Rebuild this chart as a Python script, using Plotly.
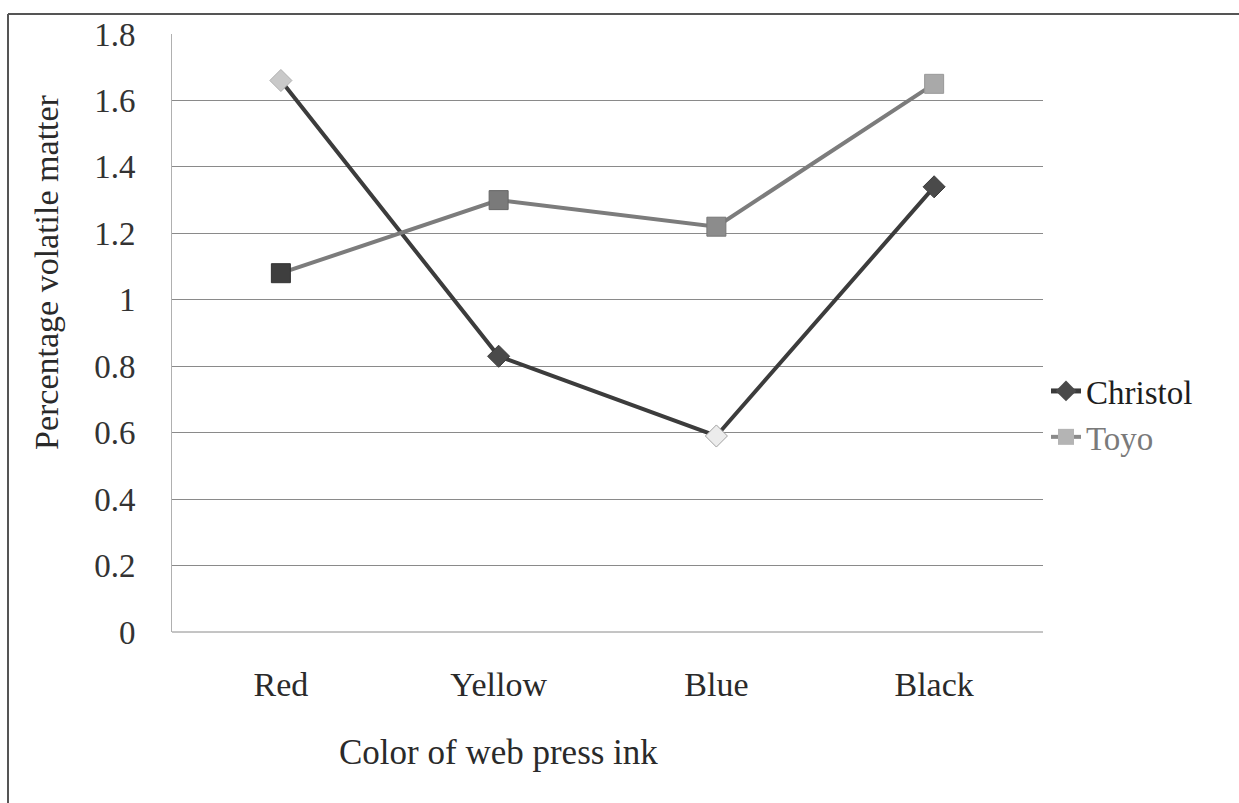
import plotly.graph_objects as go

# Volatile matter content of web press inks by colour
inks = ["Red", "Yellow", "Blue", "Black"]
christol = [1.66, 0.83, 0.59, 1.34]
toyo = [1.08, 1.30, 1.22, 1.65]
y_ticks = [0, 0.2, 0.4, 0.6, 0.8, 1, 1.2, 1.4, 1.6, 1.8]
y_tick_text = ["0", "0.2", "0.4", "0.6", "0.8", "1", "1.2", "1.4", "1.6", "1.8"]

FONT = "Liberation Serif, Times New Roman, serif"
W, H = 1239, 803
L, R, T, B = 172, 196, 34, 171
pw, ph = W - L - R, H - T - B

CHRISTOL_LINE = "#3c3c3c"
TOYO_LINE = "#7c7c7c"


def px_to_paper(x=None, y=None):
    out = []
    if x is not None:
        out.append((x - L) / pw)
    if y is not None:
        out.append((H - B - y) / ph)
    return out if len(out) > 1 else out[0]


fig = go.Figure()

fig.add_trace(go.Scatter(
    x=inks, y=christol, name="Christol", mode="lines+markers", showlegend=False,
    line=dict(color=CHRISTOL_LINE, width=4),
    marker=dict(symbol="diamond", size=17,
                color=["#c9c9c9", "#4a4a4a", "#ececec", "#4a4a4a"],
                line=dict(color=["#b0b0b0", "#3c3c3c", "#a0a0a0", "#3c3c3c"], width=1)),
))
fig.add_trace(go.Scatter(
    x=inks, y=toyo, name="Toyo", mode="lines+markers", showlegend=False,
    line=dict(color=TOYO_LINE, width=4),
    marker=dict(symbol="square", size=19,
                color=["#3e3e3e", "#7a7a7a", "#8c8c8c", "#a9a9a9"],
                line=dict(color=["#333333", "#666666", "#777777", "#999999"], width=1)),
))

# legend entries with the series' nominal styling
fig.add_trace(go.Scatter(
    x=[inks[0]], y=[None], name="Christol", mode="lines+markers",
    line=dict(color="#3a3a3a", width=5),
    marker=dict(symbol="diamond", size=17, color="#4a4a4a"),
))
fig.add_trace(go.Scatter(
    x=[inks[0]], y=[None], name="<span style='color:#7a7a7a'>Toyo</span>",
    mode="lines+markers",
    line=dict(color="#8a8a8a", width=4),
    marker=dict(symbol="square", size=17, color="#b4b4b4"),
))

fig.update_xaxes(
    type="category", range=[-0.5, 3.5],
    showgrid=False, zeroline=False,
    showline=False,
    ticks="", ticklabelstandoff=29,
    tickfont=dict(family=FONT, size=34, color="#2a2a2a"),
)
fig.update_yaxes(
    range=[0, 1.8], tickvals=y_ticks, ticktext=y_tick_text,
    showgrid=True, gridcolor="#8a8a8a", gridwidth=1,
    zeroline=False, showline=True, linecolor="#b0b0b0", linewidth=1,
    ticks="", ticklabelstandoff=29,
    tickfont=dict(family=FONT, size=33, color="#333333"),
)

# plot-area baseline
fig.add_shape(type="line", xref="paper", yref="paper", x0=0, x1=1, y0=0, y1=0,
              line=dict(color="#8a8a8a", width=1))

# frame lines along the top and left of the chart
x_left = px_to_paper(x=8)
y_top = px_to_paper(y=14)
fig.add_shape(type="line", xref="paper", yref="paper",
              x0=x_left, x1=px_to_paper(x=W + 5), y0=y_top, y1=y_top,
              line=dict(color="#555555", width=2))
fig.add_shape(type="line", xref="paper", yref="paper",
              x0=x_left, x1=x_left, y0=y_top, y1=px_to_paper(y=H + 5),
              line=dict(color="#555555", width=2))

fig.add_annotation(
    text="Percentage volatile matter", textangle=-90,
    xref="paper", yref="paper",
    x=px_to_paper(x=46), y=px_to_paper(y=272),
    xanchor="center", yanchor="middle", showarrow=False,
    font=dict(family=FONT, size=34, color="#2a2a2a"),
)
fig.add_annotation(
    text="Color of web press ink",
    xref="paper", yref="paper",
    x=px_to_paper(x=498), y=px_to_paper(y=752),
    xanchor="center", yanchor="middle", showarrow=False,
    font=dict(family=FONT, size=35, color="#2a2a2a"),
)

fig.update_layout(
    width=W, height=H,
    margin=dict(l=L, r=R, t=T, b=B),
    paper_bgcolor="white", plot_bgcolor="white",
    showlegend=True,
    legend=dict(
        x=px_to_paper(x=1046), y=px_to_paper(y=414),
        xanchor="left", yanchor="middle",
        font=dict(family=FONT, size=33, color="#1e1e1e"),
        bgcolor="rgba(0,0,0,0)", itemwidth=30, tracegroupgap=0,
    ),
)

fig.write_html("out.html")
